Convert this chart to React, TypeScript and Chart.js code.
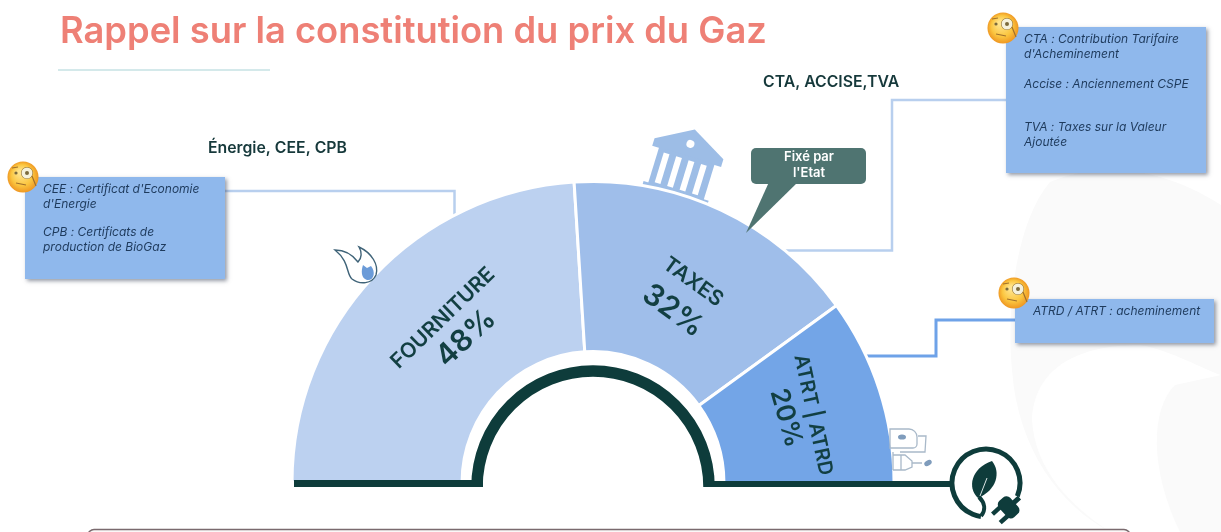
import React, { useEffect, useRef } from "react";
import { Chart, registerables } from "chart.js";

Chart.register(...registerables);

const categories = ["FOURNITURE", "TAXES", "ATRT | ATRD"];
const shares = [48, 32, 20];
const sliceColors = ["#bcd1f0", "#9fbeea", "#73a5e7"];

const pageTitle = "Rappel sur la constitution du prix du Gaz";
const headFourniture = "Énergie, CEE, CPB";
const headTaxes = "CTA, ACCISE,TVA";
const calloutLines = ["Fixé par", "l'Etat"];
const noteFourniture = ["CEE : Certificat d'Economie", "d'Energie", "CPB : Certificats de", "production de BioGaz"];
const noteTaxes = ["CTA : Contribution Tarifaire", "d'Acheminement", "Accise : Anciennement CSPE", "TVA : Taxes sur la Valeur", "Ajoutée"];
const noteAtrd = ["ATRD / ATRT : acheminement"];

const DARK = "#0e3c3b";
const INK = "#123f42";
type C = CanvasRenderingContext2D;

function poly(ctx: C, pts: number[][], close = true) {
  ctx.beginPath();
  pts.forEach((p, i) => (i ? ctx.lineTo(p[0], p[1]) : ctx.moveTo(p[0], p[1])));
  if (close) ctx.closePath();
}

function noteBox(ctx: C, x: number, y: number, w: number, h: number) {
  ctx.save();
  ctx.shadowColor = "rgba(60,70,90,0.55)";
  ctx.shadowBlur = 4;
  ctx.shadowOffsetX = 2;
  ctx.shadowOffsetY = 2;
  ctx.fillStyle = "#8fb8ec";
  ctx.fillRect(x, y, w, h);
  ctx.restore();
}

function emoji(ctx: C, x: number, y: number) {
  ctx.save();
  const g = ctx.createRadialGradient(x - 3, y - 5, 2, x, y, 16);
  g.addColorStop(0, "#ffe38a");
  g.addColorStop(0.6, "#fbc640");
  g.addColorStop(1, "#ee9420");
  ctx.fillStyle = g;
  ctx.beginPath();
  ctx.arc(x, y, 15.5, 0, Math.PI * 2);
  ctx.fill();
  ctx.strokeStyle = "#8a6a2c";
  ctx.lineWidth = 1.1;
  ctx.beginPath();
  ctx.arc(x + 4, y - 4, 5.5, 0, Math.PI * 2);
  ctx.stroke();
  ctx.fillStyle = "#f5f1dc";
  ctx.fill();
  ctx.fillStyle = "#7b6a3c";
  ctx.beginPath();
  ctx.arc(x + 4, y - 4, 2, 0, Math.PI * 2);
  ctx.arc(x - 7, y - 4, 1.6, 0, Math.PI * 2);
  ctx.fill();
  ctx.lineWidth = 1.2;
  ctx.strokeStyle = "#a0702c";
  ctx.beginPath();
  ctx.moveTo(x - 11, y - 9);
  ctx.lineTo(x - 5, y - 10);
  ctx.moveTo(x - 7, y + 6);
  ctx.lineTo(x + 3, y + 8);
  ctx.moveTo(x + 9, y - 1);
  ctx.lineTo(x + 13, y + 9);
  ctx.stroke();
  ctx.restore();
}

function textLines(ctx: C, lines: string[], x: number, ys: number[]) {
  lines.forEach((t, i) => ctx.fillText(t, x, ys[i]));
}

function rotated(ctx: C, text: string, x: number, y: number, deg: number, font: string) {
  ctx.save();
  ctx.translate(x, y);
  ctx.rotate((deg * Math.PI) / 180);
  ctx.font = font;
  ctx.textAlign = "center";
  ctx.textBaseline = "middle";
  ctx.fillStyle = INK;
  ctx.fillText(text, 0, 0);
  ctx.restore();
}

function watermark(ctx: C) {
  ctx.save();
  ctx.fillStyle = "#fafafa";
  ctx.beginPath();
  ctx.moveTo(1050, 182);
  ctx.bezierCurveTo(1018, 220, 1006, 300, 1012, 370);
  ctx.bezierCurveTo(1018, 450, 1060, 505, 1110, 532);
  ctx.lineTo(1221, 532);
  ctx.lineTo(1221, 205);
  ctx.bezierCurveTo(1150, 160, 1090, 165, 1050, 182);
  ctx.fill();
  ctx.fillStyle = "#ffffff";
  ctx.beginPath();
  ctx.moveTo(1032, 420);
  ctx.bezierCurveTo(1035, 360, 1090, 345, 1140, 345);
  ctx.bezierCurveTo(1170, 350, 1205, 370, 1221, 375);
  ctx.lineTo(1175, 385);
  ctx.bezierCurveTo(1150, 410, 1150, 470, 1180, 532);
  ctx.lineTo(1110, 532);
  ctx.bezierCurveTo(1070, 505, 1035, 470, 1032, 420);
  ctx.fill();
  ctx.restore();
}

function bank(ctx: C) {
  ctx.save();
  ctx.translate(684, 165);
  ctx.rotate((17 * Math.PI) / 180);
  ctx.fillStyle = "#9dbde6";
  poly(ctx, [[0, -37], [36, -17], [36, -9], [-36, -9], [-36, -17]]);
  ctx.fill();
  ctx.fillRect(-29, -10, 58, 38);
  ctx.fillRect(-34, 27, 68, 5);
  ctx.fillRect(-40, 32, 80, 6);
  ctx.fillStyle = "#ffffff";
  [-20, -7, 6, 19].forEach((dx) => ctx.fillRect(dx - 3, -6, 6, 31));
  ctx.beginPath();
  ctx.arc(0, -22, 4, 0, Math.PI * 2);
  ctx.fill();
  ctx.restore();
}

function flame(ctx: C) {
  ctx.save();
  ctx.strokeStyle = "#3f6378";
  ctx.lineWidth = 1.4;
  ctx.fillStyle = "#ffffff";
  ctx.beginPath();
  ctx.moveTo(335, 250);
  ctx.bezierCurveTo(345, 250, 352, 254, 358, 262);
  ctx.bezierCurveTo(362, 258, 362, 252, 359, 247);
  ctx.bezierCurveTo(372, 253, 379, 265, 376, 275);
  ctx.bezierCurveTo(372, 284, 360, 285, 352, 279);
  ctx.bezierCurveTo(346, 274, 350, 262, 335, 250);
  ctx.closePath();
  ctx.fill();
  ctx.stroke();
  ctx.fillStyle = "#6b9bd8";
  ctx.beginPath();
  ctx.moveTo(363, 265);
  ctx.lineTo(367, 268);
  ctx.lineTo(371, 266);
  ctx.bezierCurveTo(376, 272, 374, 281, 367, 280);
  ctx.bezierCurveTo(361, 278, 361, 271, 363, 265);
  ctx.fill();
  ctx.restore();
}

function device(ctx: C) {
  ctx.save();
  ctx.strokeStyle = "#a9b9c9";
  ctx.lineWidth = 1.3;
  ctx.beginPath();
  ctx.roundRect(890, 429, 27, 19, [0, 8, 4, 0]);
  ctx.moveTo(918, 436);
  ctx.lineTo(926, 436);
  ctx.lineTo(925, 452);
  ctx.lineTo(900, 452);
  ctx.moveTo(893, 452);
  ctx.lineTo(893, 470);
  ctx.moveTo(893, 455);
  ctx.lineTo(905, 455);
  ctx.lineTo(912, 461);
  ctx.lineTo(912, 467);
  ctx.lineTo(905, 470);
  ctx.lineTo(893, 470);
  ctx.moveTo(901, 455);
  ctx.lineTo(901, 470);
  ctx.moveTo(912, 463);
  ctx.lineTo(922, 463);
  ctx.stroke();
  ctx.fillStyle = "#7f9cbc";
  ctx.beginPath();
  ctx.ellipse(902, 437, 4, 2.6, 0, 0, Math.PI * 2);
  ctx.ellipse(928, 463, 4, 2.6, -0.5, 0, Math.PI * 2);
  ctx.fill();
  ctx.restore();
}

function plug(ctx: C) {
  ctx.save();
  ctx.strokeStyle = DARK;
  ctx.fillStyle = DARK;
  ctx.lineWidth = 5;
  ctx.beginPath();
  ctx.arc(986, 483, 34, 0.4, 0.5 * Math.PI + 0.15, true);
  ctx.stroke();
  ctx.lineWidth = 4;
  ctx.beginPath();
  ctx.moveTo(981, 516);
  ctx.bezierCurveTo(986, 510, 985, 503, 979, 497);
  ctx.stroke();
  ctx.beginPath();
  ctx.moveTo(992, 461);
  ctx.bezierCurveTo(1001, 472, 997, 490, 978, 498);
  ctx.bezierCurveTo(967, 488, 971, 468, 992, 461);
  ctx.fill();
  ctx.strokeStyle = "#d9e4e4";
  ctx.lineWidth = 1;
  ctx.beginPath();
  ctx.moveTo(980, 496);
  ctx.lineTo(987, 478);
  ctx.stroke();
  ctx.translate(1009, 507);
  ctx.rotate((-42 * Math.PI) / 180);
  ctx.beginPath();
  ctx.roundRect(-8, -11, 15, 22, 5);
  ctx.fill();
  ctx.fillRect(-17, -8, 10, 4.5);
  ctx.fillRect(-17, 3.5, 10, 4.5);
  ctx.fillRect(5, -2.5, 9, 5);
  ctx.restore();
}

const scenery = {
  id: "scenery",
  beforeDatasetsDraw(chart: any) {
    const ctx: C = chart.ctx;
    watermark(ctx);
    bank(ctx);
    ctx.save();
    ctx.lineWidth = 2.5;
    ctx.strokeStyle = "#b8cfee";
    poly(ctx, [[225, 191], [454.5, 191], [454.5, 216]], false);
    ctx.stroke();
    poly(ctx, [[780, 250.5], [892, 250.5], [892, 100], [1006, 100]], false);
    ctx.stroke();
    ctx.strokeStyle = "#6ea2e8";
    ctx.lineWidth = 3;
    poly(ctx, [[850, 356], [936, 356], [936, 320], [1015, 320]], false);
    ctx.stroke();
    ctx.restore();
  },
  afterDatasetsDraw(chart: any) {
    const ctx: C = chart.ctx;
    const arc = chart.getDatasetMeta(0).data[0];
    const cx: number = arc.x;
    ctx.save();

    // title and its rule
    ctx.fillStyle = "#ee8076";
    ctx.font = "600 36.3px Inter";
    ctx.textBaseline = "alphabetic";
    ctx.fillText(pageTitle, 60, 43);
    ctx.strokeStyle = "#a9d3d6";
    ctx.lineWidth = 1;
    poly(ctx, [[58, 70], [270, 70]], false);
    ctx.stroke();

    // inner dark band and base line
    ctx.strokeStyle = DARK;
    ctx.lineWidth = 11.5;
    ctx.beginPath();
    ctx.arc(cx, 487, 116, Math.PI, 2 * Math.PI);
    ctx.stroke();
    ctx.fillStyle = "#ffffff";
    ctx.fillRect(465, 487, 260, 10);
    ctx.fillStyle = DARK;
    ctx.fillRect(294, 480, 189, 7);
    ctx.fillRect(704, 481, 247, 6);

    flame(ctx);
    device(ctx);
    plug(ctx);

    // notes
    noteBox(ctx, 25, 177, 200, 102);
    noteBox(ctx, 1006, 27, 200, 146);
    noteBox(ctx, 1015, 299, 199, 44);
    emoji(ctx, 23, 177);
    emoji(ctx, 1003, 28);
    emoji(ctx, 1014, 293);
    ctx.fillStyle = "#1e3a5c";
    ctx.font = "italic 400 12px Inter";
    ctx.textBaseline = "middle";
    textLines(ctx, noteFourniture, 43, [189, 204, 232, 247]);
    textLines(ctx, noteTaxes, 1024, [39, 54, 84, 127, 142]);
    textLines(ctx, noteAtrd, 1033, [311]);

    // heads
    ctx.fillStyle = "#16393b";
    ctx.font = "600 15.8px Inter";
    ctx.fillText(headFourniture, 208, 148);
    ctx.fillText(headTaxes, 763, 82);

    // callout
    ctx.fillStyle = "#4f7471";
    ctx.beginPath();
    ctx.roundRect(751, 148, 115, 36, 5);
    ctx.fill();
    poly(ctx, [[769, 182], [798, 182], [746, 233]]);
    ctx.fill();
    ctx.fillStyle = "#ffffff";
    ctx.font = "600 13px Inter";
    ctx.textAlign = "center";
    ctx.fillText(calloutLines[0], 809, 157);
    ctx.fillText(calloutLines[1], 809, 173);
    ctx.textAlign = "left";

    // slice labels
    rotated(ctx, categories[0], 443, 318, -44, "600 21px Inter");
    rotated(ctx, `${shares[0]}%`, 466, 338, -43, "600 30px Inter");
    rotated(ctx, categories[1], 693, 282, 36, "600 21px Inter");
    rotated(ctx, `${shares[1]}%`, 673, 311, 36, "600 30px Inter");
    rotated(ctx, categories[2], 813, 415, 78, "600 20px Inter");
    rotated(ctx, `${shares[2]}%`, 786, 418, 74, "600 26px Inter");

    // bottom panel
    ctx.strokeStyle = "#7a6a6e";
    ctx.lineWidth = 1.5;
    ctx.fillStyle = "#fbf7f7";
    ctx.beginPath();
    ctx.roundRect(88, 529.5, 1042, 20, 6);
    ctx.fill();
    ctx.stroke();
    ctx.restore();
  },
};

export default function App() {
  const ref = useRef<HTMLCanvasElement>(null);
  useEffect(() => {
    const chart = new Chart(ref.current!, {
      type: "doughnut",
      data: {
        labels: categories,
        datasets: [
          {
            data: shares,
            backgroundColor: sliceColors,
            borderColor: "#ffffff",
            borderWidth: 3,
            radius: 301,
          } as any,
        ],
      },
      options: {
        animation: false,
        responsive: false,
        rotation: -90,
        circumference: 180,
        cutout: "43.5%",
        layout: { padding: { left: 293, right: 328, top: 182, bottom: 50 } },
        plugins: { legend: { display: false }, tooltip: { enabled: false } },
      },
      plugins: [scenery],
    } as any);
    return () => chart.destroy();
  }, []);
  return (
    <div style={{ position: "absolute", left: 0, top: 0, width: 1221, height: 532, overflow: "hidden", background: "#fff" }}>
      <canvas ref={ref} width={1221} height={532} style={{ display: "block" }} />
    </div>
  );
}
